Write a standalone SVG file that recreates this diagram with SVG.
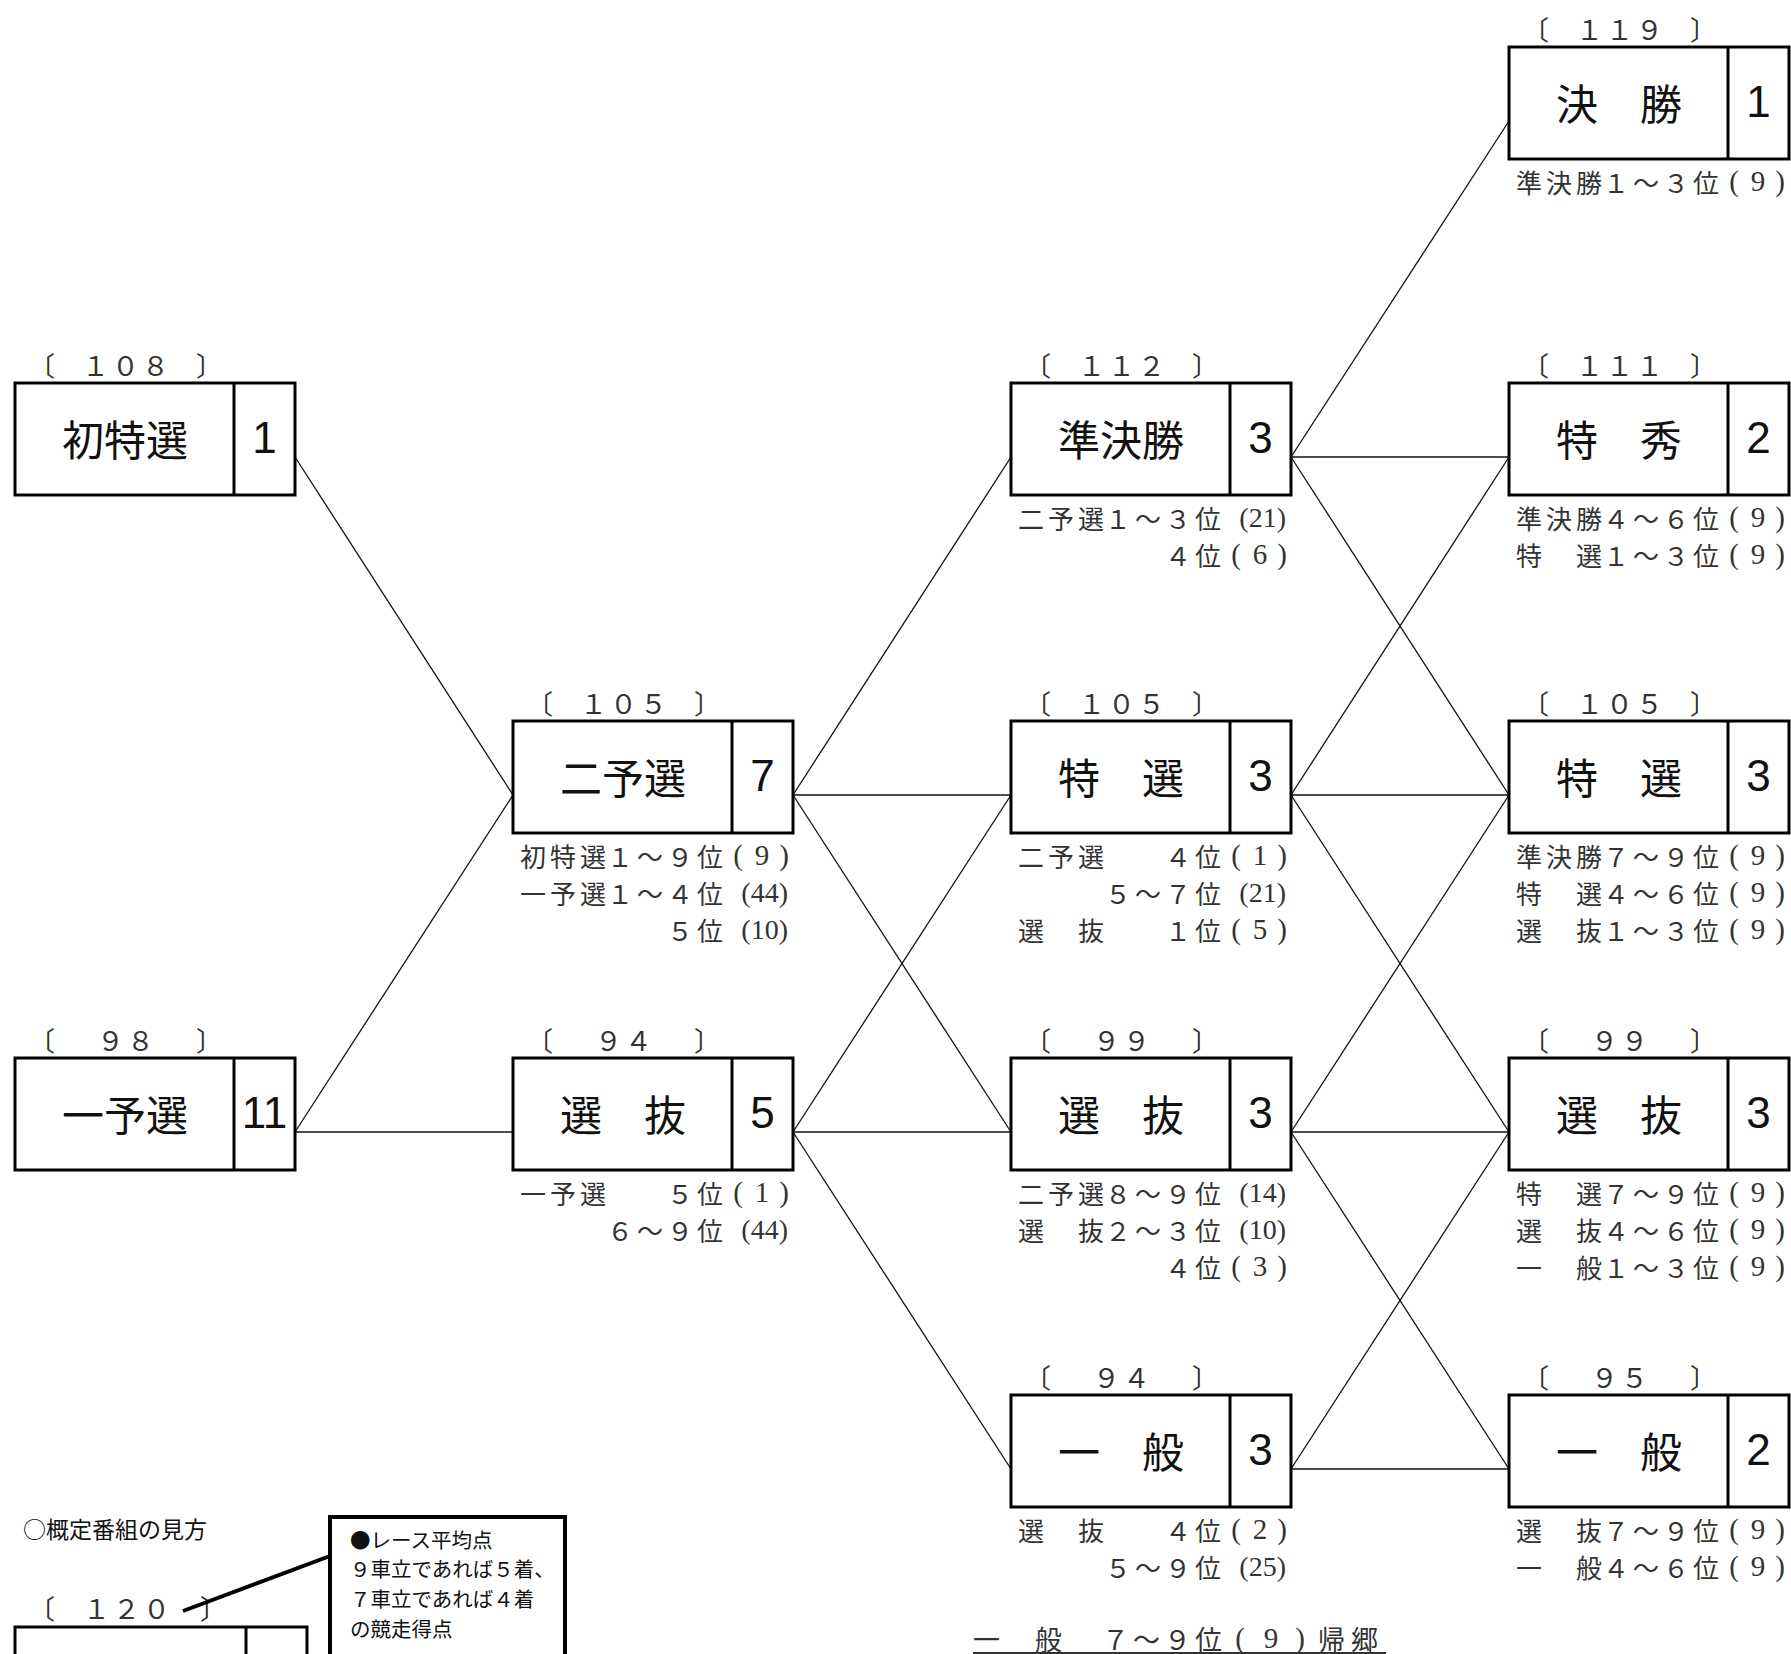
<svg xmlns="http://www.w3.org/2000/svg" width="1791" height="1654" viewBox="0 0 1791 1654">
<style>
.bx{fill:#fff;stroke:#000;stroke-width:3}
.dv{stroke:#000;stroke-width:3}
.cn line{stroke:#111;stroke-width:1.3}
.t{font-family:"Noto Sans CJK JP",sans-serif;font-size:42px;text-anchor:middle;dominant-baseline:central;fill:#111}
.n{font-family:"Liberation Sans",Arial,sans-serif;font-size:44px;text-anchor:middle;dominant-baseline:central;fill:#111}
.b{font-family:"Noto Sans CJK JP",sans-serif;font-size:27px;dominant-baseline:central;fill:#333}
.bn{font-family:"Noto Sans CJK JP",sans-serif;font-size:27px;dominant-baseline:central;text-anchor:middle;fill:#333;letter-spacing:3px}
.l{font-family:"Noto Sans CJK JP",sans-serif;font-size:26px;letter-spacing:4px;dominant-baseline:central;fill:#333}
.r{font-family:"Noto Sans CJK JP",sans-serif;font-size:26px;letter-spacing:4px;dominant-baseline:central;text-anchor:end;fill:#333}
.p{font-family:"Liberation Serif",serif;font-size:29px;text-anchor:middle;dominant-baseline:central;fill:#333}
.pm{font-family:"Liberation Serif",serif;font-size:28px;text-anchor:end;dominant-baseline:central;fill:#333}
.lg{font-family:"Noto Sans CJK JP",sans-serif;font-size:20.5px;dominant-baseline:central;fill:#111}
</style>

<g id="connectors" class="cn">
<line x1="295" y1="457" x2="513" y2="795"/>
<line x1="295" y1="1132" x2="513" y2="795"/>
<line x1="295" y1="1132" x2="513" y2="1132"/>
<line x1="793" y1="795" x2="1011" y2="457"/>
<line x1="793" y1="795" x2="1011" y2="795"/>
<line x1="793" y1="795" x2="1011" y2="1132"/>
<line x1="793" y1="1132" x2="1011" y2="795"/>
<line x1="793" y1="1132" x2="1011" y2="1132"/>
<line x1="793" y1="1132" x2="1011" y2="1469"/>
<line x1="1291" y1="457" x2="1509" y2="121"/>
<line x1="1291" y1="457" x2="1509" y2="457"/>
<line x1="1291" y1="457" x2="1509" y2="795"/>
<line x1="1291" y1="795" x2="1509" y2="457"/>
<line x1="1291" y1="795" x2="1509" y2="795"/>
<line x1="1291" y1="795" x2="1509" y2="1132"/>
<line x1="1291" y1="1132" x2="1509" y2="795"/>
<line x1="1291" y1="1132" x2="1509" y2="1132"/>
<line x1="1291" y1="1132" x2="1509" y2="1469"/>
<line x1="1291" y1="1469" x2="1509" y2="1132"/>
<line x1="1291" y1="1469" x2="1509" y2="1469"/>
</g>

<g id="n-hatsutokusen">
<text class="b" x="28" y="364">〔</text><text class="bn" x="127" y="364">１０８</text><text class="b" x="196" y="364">〕</text>
<rect class="bx" x="15" y="383" width="280" height="112"/><line class="dv" x1="234" y1="383" x2="234" y2="495"/>
<text class="t" x="125" y="437">初特選</text><text class="n" x="264.5" y="437">1</text>
</g>

<g id="n-ichiyosen">
<text class="b" x="28" y="1039">〔</text><text class="bn" x="127" y="1039">９８</text><text class="b" x="196" y="1039">〕</text>
<rect class="bx" x="15" y="1058" width="280" height="112"/><line class="dv" x1="234" y1="1058" x2="234" y2="1170"/>
<text class="t" x="125" y="1112">一予選</text><text class="n" x="264.5" y="1112">11</text>
</g>

<g id="n-niyosen">
<text class="b" x="526" y="702">〔</text><text class="bn" x="625" y="702">１０５</text><text class="b" x="694" y="702">〕</text>
<rect class="bx" x="513" y="721" width="280" height="112"/><line class="dv" x1="732" y1="721" x2="732" y2="833"/>
<text class="t" x="623" y="775">二予選</text><text class="n" x="762.5" y="775">7</text>
<text class="l" x="520" y="855">初特選</text><text class="r" x="727" y="855">１～９位</text><text class="p" y="855"><tspan x="738">(</tspan><tspan x="762">9</tspan><tspan x="784">)</tspan></text>
<text class="l" x="520" y="892">一予選</text><text class="r" x="727" y="892">１～４位</text><text class="pm" x="788" y="892">(44)</text>
<text class="r" x="727" y="929">５位</text><text class="pm" x="788" y="929">(10)</text>
</g>

<g id="n-senbatsu2">
<text class="b" x="526" y="1039">〔</text><text class="bn" x="625" y="1039">９４</text><text class="b" x="694" y="1039">〕</text>
<rect class="bx" x="513" y="1058" width="280" height="112"/><line class="dv" x1="732" y1="1058" x2="732" y2="1170"/>
<text class="t" x="623" y="1112">選　抜</text><text class="n" x="762.5" y="1112">5</text>
<text class="l" x="520" y="1192">一予選</text><text class="r" x="727" y="1192">５位</text><text class="p" y="1192"><tspan x="738">(</tspan><tspan x="762">1</tspan><tspan x="784">)</tspan></text>
<text class="r" x="727" y="1229">６～９位</text><text class="pm" x="788" y="1229">(44)</text>
</g>

<g id="n-junkessho">
<text class="b" x="1024" y="364">〔</text><text class="bn" x="1123" y="364">１１２</text><text class="b" x="1192" y="364">〕</text>
<rect class="bx" x="1011" y="383" width="280" height="112"/><line class="dv" x1="1230" y1="383" x2="1230" y2="495"/>
<text class="t" x="1121" y="437">準決勝</text><text class="n" x="1260.5" y="437">3</text>
<text class="l" x="1018" y="517">二予選</text><text class="r" x="1225" y="517">１～３位</text><text class="pm" x="1286" y="517">(21)</text>
<text class="r" x="1225" y="554">４位</text><text class="p" y="554"><tspan x="1236">(</tspan><tspan x="1260">6</tspan><tspan x="1282">)</tspan></text>
</g>

<g id="n-tokusen3">
<text class="b" x="1024" y="702">〔</text><text class="bn" x="1123" y="702">１０５</text><text class="b" x="1192" y="702">〕</text>
<rect class="bx" x="1011" y="721" width="280" height="112"/><line class="dv" x1="1230" y1="721" x2="1230" y2="833"/>
<text class="t" x="1121" y="775">特　選</text><text class="n" x="1260.5" y="775">3</text>
<text class="l" x="1018" y="855">二予選</text><text class="r" x="1225" y="855">４位</text><text class="p" y="855"><tspan x="1236">(</tspan><tspan x="1260">1</tspan><tspan x="1282">)</tspan></text>
<text class="r" x="1225" y="892">５～７位</text><text class="pm" x="1286" y="892">(21)</text>
<text class="l" x="1018" y="929">選　抜</text><text class="r" x="1225" y="929">１位</text><text class="p" y="929"><tspan x="1236">(</tspan><tspan x="1260">5</tspan><tspan x="1282">)</tspan></text>
</g>

<g id="n-senbatsu3">
<text class="b" x="1024" y="1039">〔</text><text class="bn" x="1123" y="1039">９９</text><text class="b" x="1192" y="1039">〕</text>
<rect class="bx" x="1011" y="1058" width="280" height="112"/><line class="dv" x1="1230" y1="1058" x2="1230" y2="1170"/>
<text class="t" x="1121" y="1112">選　抜</text><text class="n" x="1260.5" y="1112">3</text>
<text class="l" x="1018" y="1192">二予選</text><text class="r" x="1225" y="1192">８～９位</text><text class="pm" x="1286" y="1192">(14)</text>
<text class="l" x="1018" y="1229">選　抜</text><text class="r" x="1225" y="1229">２～３位</text><text class="pm" x="1286" y="1229">(10)</text>
<text class="r" x="1225" y="1266">４位</text><text class="p" y="1266"><tspan x="1236">(</tspan><tspan x="1260">3</tspan><tspan x="1282">)</tspan></text>
</g>

<g id="n-ippan3">
<text class="b" x="1024" y="1376">〔</text><text class="bn" x="1123" y="1376">９４</text><text class="b" x="1192" y="1376">〕</text>
<rect class="bx" x="1011" y="1395" width="280" height="112"/><line class="dv" x1="1230" y1="1395" x2="1230" y2="1507"/>
<text class="t" x="1121" y="1449">一　般</text><text class="n" x="1260.5" y="1449">3</text>
<text class="l" x="1018" y="1529">選　抜</text><text class="r" x="1225" y="1529">４位</text><text class="p" y="1529"><tspan x="1236">(</tspan><tspan x="1260">2</tspan><tspan x="1282">)</tspan></text>
<text class="r" x="1225" y="1566">５～９位</text><text class="pm" x="1286" y="1566">(25)</text>
</g>

<g id="n-kessho">
<text class="b" x="1522" y="28">〔</text><text class="bn" x="1621" y="28">１１９</text><text class="b" x="1690" y="28">〕</text>
<rect class="bx" x="1509" y="47" width="280" height="112"/><line class="dv" x1="1728" y1="47" x2="1728" y2="159"/>
<text class="t" x="1619" y="101">決　勝</text><text class="n" x="1758.5" y="101">1</text>
<text class="l" x="1516" y="181">準決勝</text><text class="r" x="1723" y="181">１～３位</text><text class="p" y="181"><tspan x="1734">(</tspan><tspan x="1758">9</tspan><tspan x="1780">)</tspan></text>
</g>

<g id="n-tokushu">
<text class="b" x="1522" y="364">〔</text><text class="bn" x="1621" y="364">１１１</text><text class="b" x="1690" y="364">〕</text>
<rect class="bx" x="1509" y="383" width="280" height="112"/><line class="dv" x1="1728" y1="383" x2="1728" y2="495"/>
<text class="t" x="1619" y="437">特　秀</text><text class="n" x="1758.5" y="437">2</text>
<text class="l" x="1516" y="517">準決勝</text><text class="r" x="1723" y="517">４～６位</text><text class="p" y="517"><tspan x="1734">(</tspan><tspan x="1758">9</tspan><tspan x="1780">)</tspan></text>
<text class="l" x="1516" y="554">特　選</text><text class="r" x="1723" y="554">１～３位</text><text class="p" y="554"><tspan x="1734">(</tspan><tspan x="1758">9</tspan><tspan x="1780">)</tspan></text>
</g>

<g id="n-tokusen4">
<text class="b" x="1522" y="702">〔</text><text class="bn" x="1621" y="702">１０５</text><text class="b" x="1690" y="702">〕</text>
<rect class="bx" x="1509" y="721" width="280" height="112"/><line class="dv" x1="1728" y1="721" x2="1728" y2="833"/>
<text class="t" x="1619" y="775">特　選</text><text class="n" x="1758.5" y="775">3</text>
<text class="l" x="1516" y="855">準決勝</text><text class="r" x="1723" y="855">７～９位</text><text class="p" y="855"><tspan x="1734">(</tspan><tspan x="1758">9</tspan><tspan x="1780">)</tspan></text>
<text class="l" x="1516" y="892">特　選</text><text class="r" x="1723" y="892">４～６位</text><text class="p" y="892"><tspan x="1734">(</tspan><tspan x="1758">9</tspan><tspan x="1780">)</tspan></text>
<text class="l" x="1516" y="929">選　抜</text><text class="r" x="1723" y="929">１～３位</text><text class="p" y="929"><tspan x="1734">(</tspan><tspan x="1758">9</tspan><tspan x="1780">)</tspan></text>
</g>

<g id="n-senbatsu4">
<text class="b" x="1522" y="1039">〔</text><text class="bn" x="1621" y="1039">９９</text><text class="b" x="1690" y="1039">〕</text>
<rect class="bx" x="1509" y="1058" width="280" height="112"/><line class="dv" x1="1728" y1="1058" x2="1728" y2="1170"/>
<text class="t" x="1619" y="1112">選　抜</text><text class="n" x="1758.5" y="1112">3</text>
<text class="l" x="1516" y="1192">特　選</text><text class="r" x="1723" y="1192">７～９位</text><text class="p" y="1192"><tspan x="1734">(</tspan><tspan x="1758">9</tspan><tspan x="1780">)</tspan></text>
<text class="l" x="1516" y="1229">選　抜</text><text class="r" x="1723" y="1229">４～６位</text><text class="p" y="1229"><tspan x="1734">(</tspan><tspan x="1758">9</tspan><tspan x="1780">)</tspan></text>
<text class="l" x="1516" y="1266">一　般</text><text class="r" x="1723" y="1266">１～３位</text><text class="p" y="1266"><tspan x="1734">(</tspan><tspan x="1758">9</tspan><tspan x="1780">)</tspan></text>
</g>

<g id="n-ippan4">
<text class="b" x="1522" y="1376">〔</text><text class="bn" x="1621" y="1376">９５</text><text class="b" x="1690" y="1376">〕</text>
<rect class="bx" x="1509" y="1395" width="280" height="112"/><line class="dv" x1="1728" y1="1395" x2="1728" y2="1507"/>
<text class="t" x="1619" y="1449">一　般</text><text class="n" x="1758.5" y="1449">2</text>
<text class="l" x="1516" y="1529">選　抜</text><text class="r" x="1723" y="1529">７～９位</text><text class="p" y="1529"><tspan x="1734">(</tspan><tspan x="1758">9</tspan><tspan x="1780">)</tspan></text>
<text class="l" x="1516" y="1566">一　般</text><text class="r" x="1723" y="1566">４～６位</text><text class="p" y="1566"><tspan x="1734">(</tspan><tspan x="1758">9</tspan><tspan x="1780">)</tspan></text>
</g>

<g id="footer">
<text class="l" x="973" y="1638" style="font-size:27px">一　般</text>
<text class="r" x="1226" y="1638" style="font-size:27px">７～９位</text>
<text class="p" y="1638"><tspan x="1240">(</tspan><tspan x="1271">9</tspan><tspan x="1300">)</tspan></text>
<text class="l" x="1318" y="1638" style="font-size:27px;letter-spacing:6px">帰郷</text>
<line x1="973" y1="1653" x2="1386" y2="1653" stroke="#333" stroke-width="2"/>
</g>

<g id="legend">
<text x="23" y="1528" style="font-family:'Noto Sans CJK JP',sans-serif;font-size:23px;dominant-baseline:central;fill:#111">○概定番組の見方</text>
<rect x="330" y="1517" width="235" height="200" fill="#fff" stroke="#000" stroke-width="4"/>
<text class="lg" x="350" y="1539">●レース平均点</text>
<text class="lg" x="350" y="1568">９車立であれば５着、</text>
<text class="lg" x="350" y="1598">７車立であれば４着</text>
<text class="lg" x="350" y="1628">の競走得点</text>
<text class="b" x="28" y="1607">〔</text><text class="bn" x="128" y="1607">１２０</text><text class="b" x="200" y="1607">〕</text>
<line x1="183" y1="1611" x2="330" y2="1556" stroke="#000" stroke-width="4"/>
<rect class="bx" x="15" y="1627" width="292" height="100"/><line class="dv" x1="246" y1="1627" x2="246" y2="1727"/>
</g>
</svg>
